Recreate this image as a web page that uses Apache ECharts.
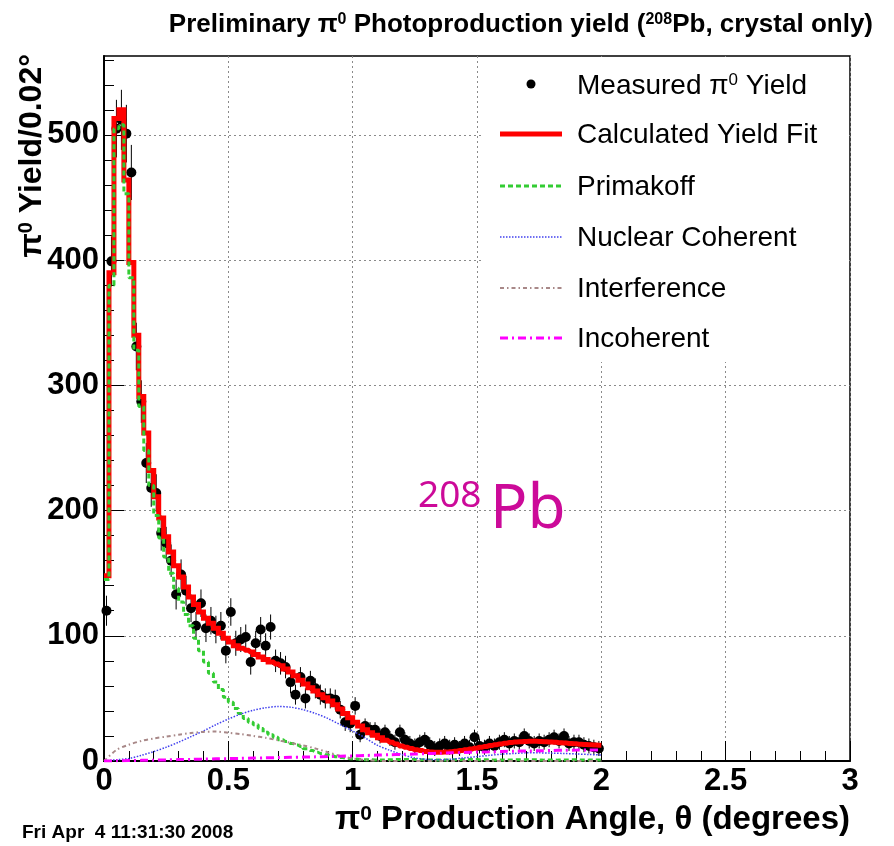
<!DOCTYPE html>
<html><head><meta charset="utf-8">
<script src="https://cdn.jsdelivr.net/npm/echarts@6/dist/echarts.min.js"></script>
<style>html,body{margin:0;padding:0;background:#fff}#c{width:894px;height:846px}</style>
</head><body><div id="c"></div>
<script>
// ---------- data ----------
const binWidth = 0.02;            // degrees per bin (bins 0.00-2.00)
const measuredYield = [
  120, 399, 505, 512, 501, 470, 331, 287, 238, 218,
  214, 182, 174, 160, 133, 149, 136, 122, 108, 126,
  106, 112, 105, 108, 88, 119, 94, 97, 99, 79,
  94, 105, 92, 107, 80, 78, 75, 63, 53, 67,
  50, 64, 58, 53, 50, 50, 49, 41, 31, 30,
  44, 21, 28, 25, 25, 20, 23, 18, 15, 23,
  17, 14, 12, 15, 17, 13, 10, 12, 14, 11,
  13, 10, 14, 11, 19, 12, 11, 14, 12, 15,
  17, 14, 16, 15, 20, 16, 14, 16, 15, 17,
  19, 16, 20, 14, 15, 15, 13, 12, 11, 10
];
const measuredError = [
  12, 20, 23, 24, 23, 22, 19, 17, 16, 15,
  15, 14, 13, 13, 12, 12, 12, 11, 11, 11,
  11, 11, 11, 11, 10, 11, 10, 10, 10, 10,
  10, 10, 10, 10, 9, 9, 9, 9, 8, 8,
  8, 8, 8, 8, 8, 8, 8, 7, 7, 7,
  7, 6, 6, 6, 6, 6, 6, 6, 6, 6,
  6, 6, 6, 6, 6, 6, 6, 6, 6, 6,
  6, 6, 6, 6, 6, 6, 6, 6, 6, 6,
  6, 6, 6, 6, 6, 6, 6, 6, 6, 6,
  6, 6, 6, 6, 6, 6, 6, 6, 6, 6
];
const fitYield = [
  148, 390, 513, 520, 464, 398, 340, 291, 262, 232,
  211, 194, 179, 167, 156, 147, 139, 131, 125, 119,
  114, 110, 106, 102, 98, 95, 92, 90, 88.5, 87,
  85, 83, 81, 79, 77.5, 76, 73.5, 71, 68, 64.5,
  61.5, 58.5, 56, 53, 50.5, 48, 45, 41.5, 38, 34.5,
  31, 28, 25, 22.5, 20.5, 18.5, 16.5, 15, 13.5, 12,
  11, 10, 9, 8.3, 7.6, 7.2, 7, 7, 7.1, 7.4,
  7.8, 8.3, 8.9, 9.5, 10.2, 10.9, 11.6, 12.3, 13, 13.6,
  14.2, 14.7, 15.1, 15.4, 15.6, 15.7, 15.7, 15.6, 15.4, 15.2,
  14.9, 14.6, 14.3, 14, 13.7, 13.4, 13.1, 12.9, 12.7, 12.5
];
const primakoff = [
  145, 380, 505, 508, 453, 386, 328, 283, 248, 220,
  196, 178, 163, 150, 138, 127, 117, 108, 98, 88,
  79, 70, 63, 57, 51, 47, 42, 38, 34, 31,
  29, 26, 23, 21, 19, 17, 15.5, 14, 12.8, 11.5,
  9.8, 8.3, 7, 6, 5, 4.2, 3.4, 2.8, 2.2, 1.8,
  1.5, 1.2, 1, 0.9, 0.8, 0.8, 0.9, 1, 1.1, 1.2,
  1.2, 1.2, 1.1, 1, 0.9, 0.8, 0.7, 0.7, 0.7, 0.8,
  0.9, 1, 1.1, 1.1, 1.1, 1, 0.9, 0.8, 0.7, 0.7,
  0.7, 0.8, 0.9, 1, 1, 1, 0.9, 0.8, 0.7, 0.7,
  0.7, 0.8, 0.8, 0.9, 0.9, 0.8, 0.8, 0.7, 0.7, 0.7
];
const curveStep = 0.05;           // sampling of the smooth component curves (0 .. 2)
const nuclearCoherent = [
  0, 1, 2, 4.5, 7.5, 11, 15, 19.5, 24, 29,
  33.5, 37.5, 40.5, 42.5, 43.5, 43, 41, 38, 34, 29,
  24, 18.5, 12.5, 8.5, 5, 2.5, 1.2, 1, 1.5, 2.5,
  3.5, 4.5, 5.5, 6, 6.5, 6.5, 6.3, 6, 5.6, 5.2, 4.8
];
const interference = [
  0, 8.8, 13, 16, 18, 19.5, 21, 22.3, 23.2, 23.5,
  22.5, 21.5, 20, 18.5, 16.5, 14.5, 12.5, 10, 7, 4,
  2, 0.8, 0.2, 0, 0, 0, 0, 0, 0, 0,
  0, 0, 0, 0, 0, 0, 0, 0, 0, 0, 0
];
const incoherent = [
  0, 0.1, 0.3, 0.5, 0.7, 0.9, 1.1, 1.3, 1.5, 1.7,
  1.9, 2.1, 2.3, 2.5, 2.7, 2.9, 3.1, 3.3, 3.5, 3.8,
  4.1, 4.4, 4.7, 5, 5.3, 5.6, 5.9, 6.2, 6.5, 6.8,
  7.1, 7.3, 7.6, 7.8, 8, 8.2, 8.4, 8.6, 8.7, 8.8, 8.9
];
const yMajorTicks = [0, 100, 200, 300, 400, 500];
const yMinorTicks = [20, 40, 60, 80, 120, 140, 160, 180, 220, 240, 260, 280,
  320, 340, 360, 380, 420, 440, 460, 480, 520, 540, 560];
const legendNames = ['Measured π0 Yield', 'Calculated Yield Fit', 'Primakoff',
  'Nuclear Coherent', 'Interference', 'Incoherent'];

// ---------- helpers ----------
const FF = '"Liberation Sans", Arial, Helvetica, sans-serif';
const binCenter = i => +(binWidth * (i + 0.5)).toFixed(3);
function histLine(vals) {
  const d = [[0, vals[0]]];
  vals.forEach((v, i) => d.push([binCenter(i), v]));
  d.push([+(binWidth * vals.length).toFixed(3), vals[vals.length - 1]]);
  return d;
}
function curve(vals) { return vals.map((v, i) => [+(curveStep * i).toFixed(3), v]); }
const points = measuredYield.map((v, i) => [binCenter(i), v]);
const errBars = measuredYield.map((v, i) => [binCenter(i), v - measuredError[i], v + measuredError[i]]);

const C = {red: '#ff0000', green: '#33cc33', blue: '#4040ee', brown: '#a88888', magenta: '#ff00ff'};
const DASH = {green: [5, 3], blue: [1.5, 1.5], brown: [4, 3, 1.5, 3], magenta: [8, 4, 2, 4]};

const chart = echarts.init(document.getElementById('c'), null, {renderer: 'canvas'});
const supRich = (size, sup) => ({
  a: {fontFamily: FF, fontSize: size, color: '#000'},
  s: {fontFamily: FF, fontSize: sup, color: '#000', verticalAlign: 'top'}
});
const boldRich = (size, sup) => ({
  a: {fontFamily: FF, fontSize: size, fontWeight: 'bold', color: '#000'},
  s: {fontFamily: FF, fontSize: sup, fontWeight: 'bold', color: '#000', verticalAlign: 'top'}
});

const legendY = [85, 134, 186, 237, 288, 338];
const legendText = [
  '{a|Measured π}{s|0}{a| Yield}',
  '{a|' + legendNames[1] + '}', '{a|' + legendNames[2] + '}', '{a|' + legendNames[3] + '}',
  '{a|' + legendNames[4] + '}', '{a|' + legendNames[5] + '}'
];
const legendLines = [
  null,
  {stroke: C.red, lineWidth: 5},
  {stroke: C.green, lineWidth: 3, lineDash: DASH.green},
  {stroke: C.blue, lineWidth: 1.5, lineDash: DASH.blue},
  {stroke: C.brown, lineWidth: 2, lineDash: DASH.brown},
  {stroke: C.magenta, lineWidth: 3, lineDash: DASH.magenta}
];
const graphic = [
  {type: 'rect', z: 50, shape: {x: 483, y: 57, width: 365, height: 305}, style: {fill: '#fff'}},
  {type: 'circle', z: 51, shape: {cx: 531, cy: legendY[0] - 1, r: 4.5}, style: {fill: '#000'}}
];
legendLines.forEach((s, i) => {
  if (s) graphic.push({type: 'line', z: 51, shape: {x1: 500, y1: legendY[i], x2: 562, y2: legendY[i]}, style: s});
  graphic.push({type: 'text', z: 51, x: 577, y: legendY[i] + 1,
    style: {text: legendText[i], rich: supRich(28, 17), align: 'left', verticalAlign: 'middle'}});
});
// axis titles, date stamp, target label
graphic.push(
  {type: 'text', z: 51, x: 850, y: 820,
   style: {text: '{a|π}{s|0}{a| Production Angle, θ (degrees)}', rich: boldRich(33, 21), align: 'right', verticalAlign: 'middle'}},
  {type: 'text', z: 51, x: 32, y: 54, rotation: Math.PI / 2,
   style: {text: '{a|π}{s|0}{a| Yield/0.02°}', rich: boldRich(32, 20), align: 'right', verticalAlign: 'middle'}},
  {type: 'text', z: 51, x: 22, y: 833,
   style: {text: 'Fri Apr  4 11:31:30 2008', fontFamily: FF, fontWeight: 'bold', fontSize: 19, fill: '#000', align: 'left', verticalAlign: 'middle'}},
  {type: 'text', z: 51, x: 418, y: 496,
   style: {text: '208', fontFamily: '"Noto Sans", "DejaVu Sans", sans-serif', fontSize: 37, fill: '#cc0a99', align: 'left', verticalAlign: 'middle'}},
  {type: 'text', z: 51, x: 490, y: 510,
   style: {text: 'Pb', fontFamily: '"Noto Sans", "DejaVu Sans", sans-serif', fontSize: 62, fill: '#cc0a99', align: 'left', verticalAlign: 'middle'}}
);

const gridLine = {show: true, lineStyle: {color: '#8a8a8a', width: 1, type: [2, 3]}};
const axisLbl = {color: '#000', fontFamily: FF, fontWeight: 'bold', fontSize: 31};

chart.setOption({
  animation: false,
  backgroundColor: '#fff',
  title: {
    text: '{a|Preliminary π}{s|0}{a| Photoproduction yield (}{s|208}{a|Pb, crystal only)}',
    right: 16, top: 7,
    textStyle: {rich: boldRich(26, 16)}
  },
  grid: {left: 104, top: 56, right: 44, bottom: 85, show: true, borderColor: '#000', borderWidth: 1.5,
         containLabel: false, outerBoundsMode: 'none'},
  xAxis: {
    type: 'value', min: 0, max: 3, interval: 0.5,
    axisLine: {show: true, onZero: false, lineStyle: {color: '#000', width: 2}},
    axisTick: {show: true, inside: true, length: 20, lineStyle: {color: '#000', width: 1}},
    minorTick: {show: true, splitNumber: 5, length: 10, lineStyle: {color: '#000', width: 1}},
    axisLabel: Object.assign({margin: 5, formatter: v => String(v)}, axisLbl),
    splitLine: gridLine
  },
  yAxis: [
    {
      type: 'value', min: 0, max: 563, interval: 100,
      axisLine: {show: true, onZero: false, lineStyle: {color: '#000', width: 2}},
      axisTick: {show: true, inside: true, length: 20, customValues: yMajorTicks, lineStyle: {color: '#000', width: 1}},
      axisLabel: Object.assign({margin: 5, customValues: yMajorTicks}, axisLbl),
      splitLine: gridLine
    },
    {
      type: 'value', min: 0, max: 563, position: 'left',
      axisLine: {show: false},
      axisTick: {show: true, inside: true, length: 10, customValues: yMinorTicks, lineStyle: {color: '#000', width: 1}},
      axisLabel: {show: false},
      splitLine: {show: false}
    }
  ],
  series: [
    {
      name: 'errors', type: 'custom', z: 2, data: errBars, encode: {x: 0, y: [1, 2]},
      renderItem: (params, api) => {
        const p1 = api.coord([api.value(0), api.value(1)]);
        const p2 = api.coord([api.value(0), api.value(2)]);
        return {type: 'line', shape: {x1: p1[0], y1: p1[1], x2: p2[0], y2: p2[1]}, style: {stroke: '#000', lineWidth: 1}};
      }
    },
    {name: legendNames[0], type: 'scatter', z: 2, data: points, symbol: 'circle', symbolSize: 10,
     itemStyle: {color: '#000', opacity: 1}},
    {name: legendNames[1], type: 'line', z: 3, step: 'middle', data: histLine(fitYield), showSymbol: false, symbol: 'none',
     lineStyle: {color: C.red, width: 5, join: 'miter'}},
    {name: legendNames[2], type: 'line', z: 4, step: 'middle', data: histLine(primakoff), showSymbol: false, symbol: 'none',
     lineStyle: {color: C.green, width: 3, type: DASH.green}},
    {name: legendNames[3], type: 'line', z: 5, smooth: 0.3, data: curve(nuclearCoherent), showSymbol: false, symbol: 'none',
     lineStyle: {color: C.blue, width: 1.5, type: DASH.blue}},
    {name: legendNames[4], type: 'line', z: 5, smooth: 0.3, data: curve(interference), showSymbol: false, symbol: 'none',
     lineStyle: {color: C.brown, width: 2, type: DASH.brown}},
    {name: legendNames[5], type: 'line', z: 5, smooth: 0.3, data: curve(incoherent), showSymbol: false, symbol: 'none',
     lineStyle: {color: C.magenta, width: 3, type: DASH.magenta}}
  ],
  graphic: graphic
});
</script></body></html>
